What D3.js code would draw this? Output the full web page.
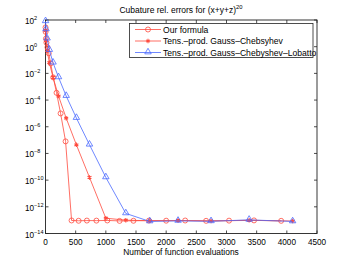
<!DOCTYPE html>
<html>
<head>
<meta charset="utf-8">
<script src="https://cdn.jsdelivr.net/npm/d3@7"></script>
<style>
  body { margin: 0; background: #fff; }
  text { font-family: "Liberation Sans", Arial, sans-serif; fill: #000; }
</style>
</head>
<body>
<svg id="chart" width="350" height="264"></svg>
<script>
// number of points and relative errors
var ourN = [1, 2, 7, 16, 32, 54, 86, 128, 183, 250, 333, 432, 549, 686, 844, 1024, 1228, 1458, 1715, 2000, 2315, 2662, 3042, 3456, 3906];
var ourErr = [2.8e1, 1.3e1, 4.0, 2.0, 9e-1, 3.2e-1, 5.6e-2, 5.0e-3, 3.5e-4, 1.0e-5, 8e-8,
  9.5e-14, 9.0e-14, 9.3e-14, 9.2e-14, 9.5e-14, 8.8e-14, 9.0e-14, 9.3e-14, 9.1e-14, 9.4e-14, 8.9e-14, 9.2e-14, 9.6e-14, 8.9e-14];

var gcN = [1, 8, 27, 64, 125, 216, 343, 512, 729, 1000, 1331, 1728, 2197, 2744, 3375, 4096];
var gcErr = [1.6e1, 2.8, 5e-1, 6.3e-2, 5e-3, 2e-4, 4.4e-6, 4.4e-8, 1.6e-10, 1.4e-13, 1.0e-13, 9e-14, 9.5e-14, 8.7e-14, 9.8e-14, 8.6e-14];

var gclN = [1, 8, 27, 64, 125, 216, 343, 512, 729, 1000, 1331, 1728, 2197, 2744, 3375, 4096];
var gclErr = [8e1, 2e1, 4, 5.6e-1, 6.3e-2, 5e-3, 2e-4, 4.5e-6, 4.5e-8, 1.6e-10, 3.2e-13, 8e-14, 8.8e-14, 8.2e-14, 1.05e-13, 8e-14];

var xTicks = [0, 500, 1000, 1500, 2000, 2500, 3000, 3500, 4000, 4500];
var yExps = [2, 0, -2, -4, -6, -8, -10, -12, -14];

var legendNames = ["Our formula", "Tens.\u2013prod. Gauss\u2013Chebsyhev", "Tens.\u2013prod. Gauss\u2013Chebyshev\u2013Lobatto"];

var red = "#ff4a3d", blue = "#4a6aff";

var svg = d3.select("#chart");
// plot box (don't call these top/left, window.top is read-only)
var pL = 45.5, pR = 317, pT = 20, pB = 233.5;

var x = d3.scaleLinear().domain([0, 4500]).range([pL, pR]);
var y = d3.scaleLog().domain([1e-14, 1e2]).range([pB, pT]);

// box
svg.append("rect")
  .attr("x", pL).attr("y", pT)
  .attr("width", pR - pL).attr("height", pB - pT)
  .attr("fill", "none").attr("stroke", "#222").attr("stroke-width", 0.9);

// ticks (inward, on all four sides)
var tk = svg.append("g").attr("stroke", "#222").attr("stroke-width", 0.8);
xTicks.forEach(function (t) {
  tk.append("line").attr("x1", x(t)).attr("x2", x(t)).attr("y1", pB).attr("y2", pB - 3);
  tk.append("line").attr("x1", x(t)).attr("x2", x(t)).attr("y1", pT).attr("y2", pT + 3);
});
yExps.forEach(function (e) {
  var yy = y(Math.pow(10, e));
  tk.append("line").attr("x1", pL).attr("x2", pL + 3).attr("y1", yy).attr("y2", yy);
  tk.append("line").attr("x1", pR).attr("x2", pR - 3).attr("y1", yy).attr("y2", yy);
});

// tick labels
svg.append("g").selectAll("text").data(xTicks).join("text")
  .attr("x", d => x(d)).attr("y", 245)
  .attr("text-anchor", "middle").attr("font-size", 8.2)
  .text(d => d);

var yl = svg.append("g").selectAll("text").data(yExps).join("text")
  .attr("x", 25).attr("y", d => y(Math.pow(10, d)) + 4)
  .attr("font-size", 8.2);
yl.append("tspan").text("10");
yl.append("tspan").attr("dy", -4).attr("font-size", 5.5)
  .text(d => d < 0 ? "\u2212" + (-d) : d);

// title and x label
var title = svg.append("text").attr("x", 181).attr("y", 13)
  .attr("text-anchor", "middle").attr("font-size", 8.5);
title.append("tspan").text("Cubature rel. errors for (x+y+z)");
title.append("tspan").attr("dy", -4).attr("font-size", 5.8).text("20");

svg.append("text").attr("x", 181).attr("y", 255)
  .attr("text-anchor", "middle").attr("font-size", 8.4)
  .text("Number of function evaluations");

// series
var line = d3.line().x(d => x(d[0])).y(d => y(d[1]));
var star = d3.symbol().type(d3.symbolAsterisk).size(14);
var tri = d3.symbol().type(d3.symbolTriangle).size(18);

function drawSeries(ns, errs, color, marker) {
  var pts = ns.map((n, i) => [n, errs[i]]);
  var g = svg.append("g");
  g.append("path").attr("d", line(pts))
    .attr("fill", "none").attr("stroke", color).attr("stroke-width", 0.8);
  pts.forEach(p => drawMarker(g, x(p[0]), y(p[1]), color, marker));
}

function drawMarker(g, cx, cy, color, marker) {
  if (marker === "circle") {
    g.append("circle").attr("cx", cx).attr("cy", cy).attr("r", 2.5)
      .attr("fill", "none").attr("stroke", color).attr("stroke-width", 0.8);
  } else if (marker === "star") {
    g.append("path").attr("d", star()).attr("transform", "translate(" + cx + "," + cy + ")")
      .attr("fill", "none").attr("stroke", color).attr("stroke-width", 1.1);
  } else {
    g.append("path").attr("d", tri()).attr("transform", "translate(" + cx + "," + (cy - 0.5) + ")")
      .attr("fill", "none").attr("stroke", color).attr("stroke-width", 0.8);
  }
}

drawSeries(ourN, ourErr, red, "circle");
drawSeries(gcN, gcErr, red, "star");
drawSeries(gclN, gclErr, blue, "tri");

// legend
var lg = svg.append("g");
lg.append("rect").attr("x", 129.5).attr("y", 23.5).attr("width", 183.5).attr("height", 34)
  .attr("fill", "#fff").attr("stroke", "#222").attr("stroke-width", 0.8);
var legColors = [red, red, blue];
var legMarks = ["circle", "star", "tri"];
legendNames.forEach(function (name, i) {
  var ly = 29.5 + i * 11.5;
  lg.append("line").attr("x1", 135).attr("x2", 161).attr("y1", ly).attr("y2", ly)
    .attr("stroke", legColors[i]).attr("stroke-width", 0.8);
  drawMarker(lg, 148, ly, legColors[i], legMarks[i]);
  lg.append("text").attr("x", 163).attr("y", ly + 3).attr("font-size", 8.6).text(name);
});
</script>
</body>
</html>
